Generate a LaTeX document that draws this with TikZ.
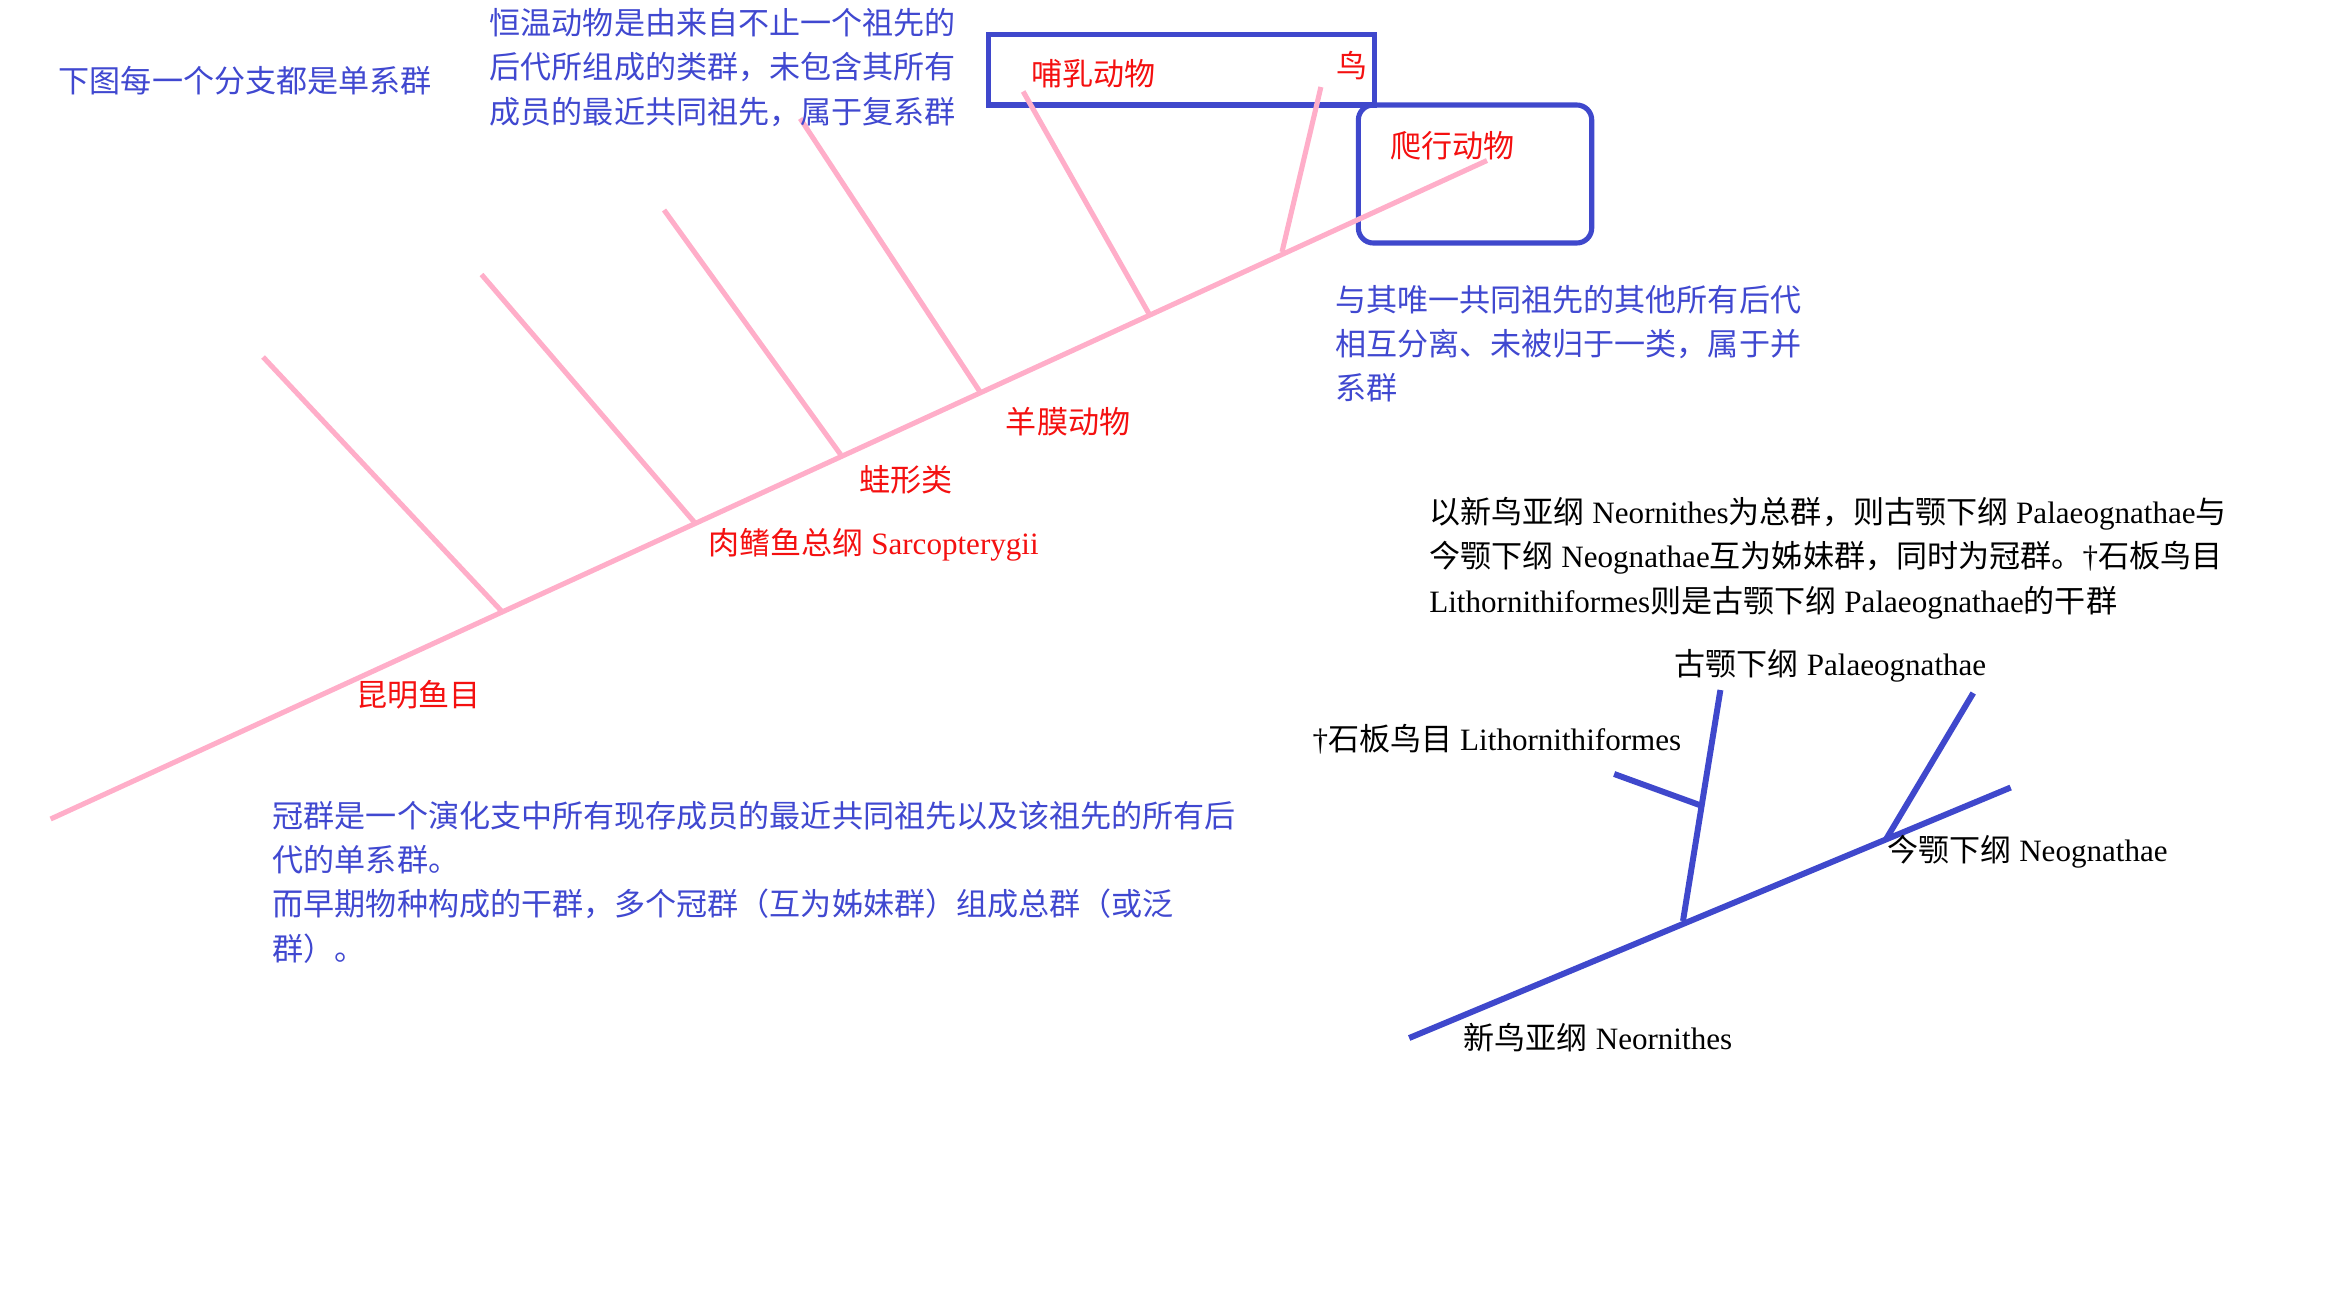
\documentclass[tikz,border=0pt]{standalone}
\usepackage{fontspec}
\setmainfont{Liberation Serif}
\newfontfamily\cjk{Noto Sans CJK SC}
\definecolor{pinkline}{HTML}{FFAEC9}
\definecolor{indigo}{HTML}{3F48CC}
\definecolor{txtblue}{HTML}{4048D0}
\definecolor{txtred}{HTML}{F41010}
\tikzset{
  lbl/.style={inner sep=0pt, anchor=west, align=left, font=\fontsize{8.84pt}{12.6pt}\selectfont\cjk},
  bluetxt/.style={lbl, text=txtblue},
  redtxt/.style={lbl, text=txtred},
  blacktxt/.style={lbl, text=black, font=\fontsize{8.84pt}{12.6pt}\selectfont},
  pinkbranch/.style={draw=pinkline, line width=1.45pt},
  bluebranch/.style={draw=indigo, line width=1.7pt},
  groupbox/.style={draw=indigo, line width=1.45pt}
}
\begin{document}
\begin{tikzpicture}[x=0.015cm, y=-0.015cm]
\useasboundingbox (0,0) rectangle (1560,862.67);
\begin{scope}[xshift=-0.5pt, xscale=0.9975]
% boxes
\draw[groupbox] (662,23) rectangle (920,70);
\draw[groupbox, rounded corners=0.15cm] (909,70) rectangle (1065,162);

% pink cladogram
\coordinate (m0) at (35,546);
\coordinate (m1) at (995,107);
\coordinate (a1) at (177,238); \coordinate (r1) at (336,407);
\coordinate (a2) at (323,183); \coordinate (r2) at (466,349);
\coordinate (a3) at (445,140); \coordinate (r3) at (563,303);
\coordinate (a4) at (536,79);  \coordinate (r4) at (656,261);
\coordinate (a5) at (685,61);  \coordinate (r5) at (769,209);
\coordinate (a6) at (884,58);  \coordinate (r6) at (858,168);
\draw[pinkbranch] (m0) -- (m1);
\foreach \i in {1,...,6} { \draw[pinkbranch] (a\i) -- (r\i); }

% blue cladogram
\coordinate (n0) at (943,692);
\coordinate (n1) at (1345,525);
\coordinate (p0) at (1126,614); \coordinate (p1) at (1151,460);
\coordinate (l0) at (1080,516); \coordinate (l1) at (1138,537);
\coordinate (g0) at (1262,559); \coordinate (g1) at (1320,462);
\draw[bluebranch] (n0) -- (n1);
\draw[bluebranch] (p0) -- (p1);
\draw[bluebranch] (l0) -- (l1);
\draw[bluebranch] (g0) -- (g1);

% texts
\node[bluetxt] (t1) at (40,54) {下图每一个分支都是单系群};
\node[bluetxt] (t2) at (328,45) {恒温动物是由来自不止一个祖先的\\后代所组成的类群，未包含其所有\\成员的最近共同祖先，属于复系群};
\node[redtxt] (mam) at (690,49) {哺乳动物};
\node[redtxt] (bird) at (894,44) {鸟};
\node[redtxt] (rep) at (930,97) {爬行动物};
\node[bluetxt] (t3) at (893,229) {与其唯一共同祖先的其他所有后代\\相互分离、未被归于一类，属于并\\系群};
\node[redtxt] (amn) at (673,281) {羊膜动物};
\node[redtxt] (frog) at (575,320) {蛙形类};
\node[redtxt, font=\fontsize{8.84pt}{12.6pt}\selectfont] (sar) at (474,363) {{\cjk 肉鳍鱼总纲} Sarcopterygii};
\node[redtxt] (kun) at (239,463) {昆明鱼目};
\node[bluetxt] (t4) at (183,588) {冠群是一个演化支中所有现存成员的最近共同祖先以及该祖先的所有后\\代的单系群。\\而早期物种构成的干群，多个冠群（互为姊妹群）组成总群（或泛\\群）。};
\node[blacktxt] (t5) at (956,372) {{\cjk 以新鸟亚纲} Neornithes{\cjk 为总群，则古颚下纲} Palaeognathae{\cjk 与}\\{\cjk 今颚下纲} Neognathae{\cjk 互为姊妹群，同时为冠群。}†{\cjk 石板鸟目}\\Lithornithiformes{\cjk 则是古颚下纲} Palaeognathae{\cjk 的干群}};
\node[blacktxt] (pal) at (1120,444) {{\cjk 古颚下纲} Palaeognathae};
\node[blacktxt] (lit) at (878,493) {†{\cjk 石板鸟目} Lithornithiformes};
\node[blacktxt] (neo) at (1262,568) {{\cjk 今颚下纲} Neognathae};
\node[blacktxt] (nor) at (979,692) {{\cjk 新鸟亚纲} Neornithes};
\end{scope}
\end{tikzpicture}
\end{document}
